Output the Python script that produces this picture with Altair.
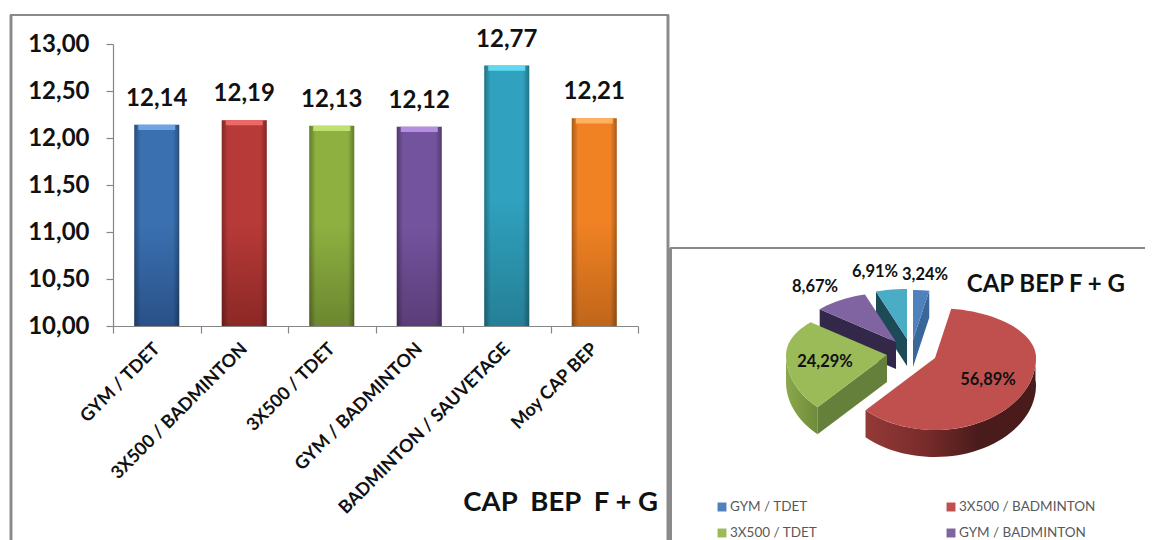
import math
import altair as alt
import pandas as pd

categories = ["GYM / TDET", "3X500 / BADMINTON", "3X500 / TDET", "GYM / BADMINTON", "BADMINTON / SAUVETAGE", "Moy CAP BEP"]
values = [12.14, 12.19, 12.13, 12.12, 12.77, 12.21]
y_ticks = [10, 10.5, 11, 11.5, 12, 12.5, 13]

pie_names = ["GYM / TDET", "3X500 / BADMINTON", "3X500 / TDET", "GYM / BADMINTON", "BADMINTON / SAUVETAGE"]
pie_values = [3.24, 56.89, 24.29, 8.67, 6.91]
pie_text = ["3,24%", "56,89%", "24,29%", "8,67%", "6,91%"]

W, H = 1137, 532
FONT = "Lato"
GREY = "#868686"

bar_main = ["#3a70b0", "#b83a38", "#8db040", "#74539e", "#30a2bf", "#f08224"]
bar_low = ["#2a5188", "#8c2826", "#6c8730", "#5a3d78", "#257f96", "#c0661a"]
bar_top = ["#6ea3e6", "#ee6866", "#c0e070", "#b48ee0", "#60d8f0", "#ffb060"]


def grad(stops, horizontal=False):
    n = len(stops) - 1
    return alt.LinearGradient(
        gradient="linear",
        x1=0, y1=0, x2=1 if horizontal else 0, y2=0 if horizontal else 1,
        stops=[alt.GradientStop(offset=i / n, color=c) for i, c in enumerate(stops)],
    )


df = pd.DataFrame({"cat": categories, "v": values, "base": [10] * len(values)})
df["cap"] = df["v"] - 0.055
df["txt"] = [f"{v:.2f}".replace(".", ",") for v in values]

xs = alt.Scale(domain=categories, range=[105, 630], paddingInner=0, paddingOuter=0)
ys = alt.Scale(domain=[10, 13], range=[318, 36], zero=False, nice=False)
X_plain = alt.X("cat:N", scale=xs, axis=None)
Y_plain = alt.Y("v:Q", scale=ys, axis=None)

layers = []

# frames
for enc in [
    dict(x=alt.value(3), y=alt.value(7), y2=alt.value(H)),
    dict(x=alt.value(660), y=alt.value(7), y2=alt.value(H)),
    dict(y=alt.value(7), x=alt.value(2), x2=alt.value(661)),
    dict(x=alt.value(662.5), y=alt.value(240), y2=alt.value(H)),
    dict(y=alt.value(240), x=alt.value(662), x2=alt.value(W)),
]:
    layers.append(alt.Chart(df).mark_rule(color="#8a8a8a", strokeWidth=2.2).encode(**enc))

# axes and bars
layers.append(
    alt.Chart(df).mark_bar(opacity=0).encode(
        x=alt.X("cat:N", scale=xs, axis=alt.Axis(
            title=None, labelAngle=-45, labelAlign="right", labelBaseline="middle",
            labelFont=FONT, labelFontWeight="bold", labelFontSize=18, labelColor="#111111",
            labelPadding=13, tickBand="extent", tickSize=7, tickColor=GREY, domainColor=GREY,
            tickWidth=1.2, domainWidth=1.2, offset=-(H - 318), labelLimit=400, grid=False)),
        y=alt.Y("v:Q", scale=ys, axis=alt.Axis(
            title=None, values=y_ticks, labelExpr="replace(format(datum.value, '.2f'), '.', ',')",
            labelFont=FONT, labelFontWeight="bold", labelFontSize=24, labelColor="#111111",
            labelPadding=17, tickSize=7, tickColor=GREY, domainColor=GREY,
            tickWidth=1.2, domainWidth=1.2, offset=-105, grid=False)),
        y2=alt.Y2("base:Q"),
    )
)
edge = grad(["rgba(0,0,0,0.30)", "rgba(0,0,0,0)", "rgba(0,0,0,0)", "rgba(0,0,0,0)", "rgba(0,0,0,0)", "rgba(0,0,0,0)", "rgba(0,0,0,0)", "rgba(0,0,0,0.30)"], horizontal=True)
for i, c in enumerate(categories):
    one = alt.Chart(df).transform_filter(alt.datum.cat == c)
    layers.append(one.mark_bar(size=45, color=grad([bar_main[i], bar_main[i], bar_low[i]])).encode(x=X_plain, y=Y_plain, y2=alt.Y2("base:Q")))
    layers.append(one.mark_bar(size=45, color=edge).encode(x=X_plain, y=Y_plain, y2=alt.Y2("base:Q")))
    layers.append(one.mark_bar(size=37, color=bar_top[i]).encode(x=X_plain, y=Y_plain, y2=alt.Y2("cap:Q")))

layers.append(
    alt.Chart(df).mark_text(font=FONT, fontWeight="bold", fontSize=24, color="#111111", baseline="bottom", dy=-14).encode(
        x=X_plain, y=Y_plain, text="txt:N")
)

# pie: tilted pie projected into page space, slice angles taken from pie_values
RX, RY_TOP, RY_BOT, DEPTH = 101, 50, 72, 27
apex = [(905, 332), (927, 350), (879, 347), (888, 334), (899, 331)]
top_col = ["#4f81bd", "#c0504d", "#9bbb59", "#8064a2", "#4bacc6"]
side_col = ["#3a6799", "#5c1f1e", "#65803a", "#33284a", "#1d4a57"]
ps = alt.Scale(domain=[0, W], range=[0, W], zero=False, nice=False)
ps_y = alt.Scale(domain=[0, H], range=[0, H], zero=False, nice=False)

edges = [0]
for p in pie_values:
    edges.append(edges[-1] + p * 3.6)


def warp(deg):
    return max(0, min(360, deg - 3 + 10 * min(1, deg / 200)))


def rim(a, deg, drop=0):
    t = math.radians(warp(deg))
    c = math.cos(t)
    return (a[0] + RX * math.sin(t), a[1] - (RY_TOP if c > 0 else RY_BOT) * c + drop)


def arc(a, d0, d1, drop=0):
    n = max(2, int(abs(d1 - d0) / 3))
    return [rim(a, d0 + (d1 - d0) * k / n, drop) for k in range(n + 1)]


def poly(pts, fill):
    d = pd.DataFrame(pts, columns=["px", "py"])
    d["i"] = range(len(d))
    return alt.Chart(d).mark_line(fill=fill, stroke="transparent", strokeWidth=0, interpolate="linear").encode(
        x=alt.X("px:Q", scale=ps, axis=None),
        y=alt.Y("py:Q", scale=ps_y, axis=None),
        order=alt.Order("i:Q"),
    )


def radial_wall(a, deg):
    return [a, rim(a, deg), rim(a, deg, DEPTH), (a[0], a[1] + DEPTH)]


for idx in [0, 4, 3, 2, 1]:
    a = apex[idx]
    d0, d1 = edges[idx], edges[idx + 1]
    if idx == 0:
        layers.append(poly(radial_wall(a, d1), side_col[idx]))
    if idx in (3, 4):
        layers.append(poly(radial_wall(a, d0), side_col[idx]))
    if idx == 2:
        layers.append(poly(arc(a, d0, 262) + arc(a, 262, d0, DEPTH), grad(["#8aa84c", "#7d9a42", "#6f8a3a"], True)))
        layers.append(poly(radial_wall(a, d0), side_col[idx]))
    if idx == 1:
        layers.append(poly(arc(a, 83, d1) + arc(a, d1, 83, DEPTH), grad(["#933a38", "#7a2c2b", "#4a1b1b", "#4a1b1b"], True)))
    layers.append(poly([a] + arc(a, d0, d1), top_col[idx]))

pie_xy = [(917, 267), (980, 372), (817, 354), (807, 279), (867, 264)]
for (tx, ty), t in zip(pie_xy, pie_text):
    layers.append(alt.Chart(pd.DataFrame({"t": [t]})).mark_text(font=FONT, fontWeight="bold", fontSize=16.5, color="#111111").encode(
        x=alt.value(tx), y=alt.value(ty), text="t:N"))

# titles
layers.append(alt.Chart(pd.DataFrame({"t": ["CAP\u00a0\u00a0BEP\u00a0\u00a0F\u00a0+\u00a0G"]})).mark_text(font=FONT, fontWeight="bold", fontSize=27.5, color="#111111", align="right").encode(
    x=alt.value(650), y=alt.value(495), text="t:N"))
layers.append(alt.Chart(pd.DataFrame({"t": ["CAP BEP F + G"]})).mark_text(font=FONT, fontWeight="bold", fontSize=24, color="#111111", align="right").encode(
    x=alt.value(1117), y=alt.value(277), text="t:N"))

# legend
leg = pd.DataFrame({"n": pie_names[:4], "c": [0, 1, 0, 1], "r": [0, 0, 1, 1]})
lx = alt.Scale(domain=[0, 1], range=[714, 943], zero=False, nice=False)
ly = alt.Scale(domain=[0, 1], range=[499, 525], zero=False, nice=False)
for i, n in enumerate(pie_names[:4]):
    one = alt.Chart(leg).transform_filter(alt.datum.n == n)
    layers.append(one.mark_square(size=80, filled=True, opacity=1, color=top_col[i]).encode(
        x=alt.X("c:Q", scale=lx, axis=None), y=alt.Y("r:Q", scale=ly, axis=None)))
    layers.append(one.mark_text(font=FONT, fontSize=13.5, color="#595959", align="left", dx=8).encode(
        x=alt.X("c:Q", scale=lx, axis=None), y=alt.Y("r:Q", scale=ly, axis=None), text="n:N"))

chart = (
    alt.layer(*layers)
    .resolve_scale(x="independent", y="independent")
    .properties(width=W, height=H, padding=0, autosize=alt.AutoSizeParams(type="none"))
    .configure_view(stroke=None)
)
chart.save("out.html", embed_options={"renderer": "svg", "actions": False})
